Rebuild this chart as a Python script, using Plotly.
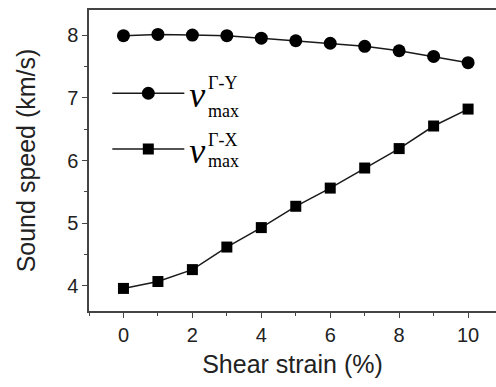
import plotly.graph_objects as go

strain = [0, 1, 2, 3, 4, 5, 6, 7, 8, 9, 10]
v_gamma_y = [7.99, 8.01, 8.00, 7.99, 7.95, 7.91, 7.87, 7.82, 7.75, 7.66, 7.56]
v_gamma_x = [3.96, 4.07, 4.26, 4.62, 4.93, 5.27, 5.56, 5.88, 6.19, 6.55, 6.82]
x_ticks = [0, 2, 4, 6, 8, 10]
y_ticks = [4, 5, 6, 7, 8]

sans = "Arial, 'Liberation Sans', sans-serif"
serif = "'Times New Roman', 'Liberation Serif', serif"

fig = go.Figure()
fig.add_trace(go.Scatter(
    x=strain, y=v_gamma_y, mode="lines+markers", name="<i>v</i>",
    legendgroup="a",
    line=dict(color="#1a1a1a", width=1.5),
    marker=dict(symbol="circle", size=13, color="black"),
))
fig.add_trace(go.Scatter(
    x=strain, y=v_gamma_x, mode="lines+markers", name="<i>v</i>",
    legendgroup="b",
    line=dict(color="#1a1a1a", width=1.5),
    marker=dict(symbol="square", size=11, color="black"),
))

axis_common = dict(
    showline=True, linecolor="#444", linewidth=1.5,
    ticks="outside", ticklen=5, tickwidth=1.2, tickcolor="#444",
    showgrid=False, zeroline=False,
    tickfont=dict(family=sans, size=20, color="#222"),
)

fig.update_xaxes(
    range=[-1, 10.81], tickvals=x_ticks, mirror=True,
    minor=dict(dtick=1, tick0=0, ticks="outside", ticklen=3, tickcolor="#444"),
    title=dict(text="Shear strain (%)", font=dict(family=sans, size=25, color="#222"), standoff=11),
    **axis_common,
)
fig.update_yaxes(
    range=[3.6, 8.4], tickvals=y_ticks,
    minor=dict(dtick=0.5, tick0=0, ticks="outside", ticklen=3, tickcolor="#444"),
    title=dict(text="Sound speed (km/s)", font=dict(family=sans, size=25, color="#222"), standoff=24),
    **axis_common,
)

fig.update_layout(
    width=496, height=387,
    margin=dict(l=89, r=0, t=10, b=76),
    plot_bgcolor="white", paper_bgcolor="white",
    showlegend=True,
    legend=dict(
        x=0.045, y=0.63, xanchor="left", yanchor="middle",
        bgcolor="rgba(0,0,0,0)", itemwidth=72, tracegroupgap=6,
        font=dict(family=serif, size=36, color="black"),
    ),
)

labels = [("Γ-Y", 0.7565, "max", 0.6655), ("Γ-X", 0.567, "max", 0.4993)]
for sup, ysup, sub, ysub in labels:
    fig.add_annotation(xref="paper", yref="paper", x=0.2875, y=ysup,
                       text=sup, showarrow=False, xanchor="left", yanchor="middle",
                       font=dict(family=serif, size=18, color="black"))
    fig.add_annotation(xref="paper", yref="paper", x=0.2875, y=ysub,
                       text=sub, showarrow=False, xanchor="left", yanchor="middle",
                       font=dict(family=serif, size=18, color="black"))

fig.write_html("out.html")
